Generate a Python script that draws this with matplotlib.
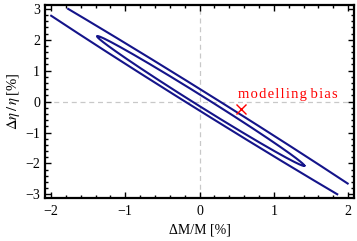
import numpy as np
import matplotlib
matplotlib.use("Agg")
import matplotlib.pyplot as plt
from matplotlib.ticker import MultipleLocator

plt.rcParams['font.family'] = ['Liberation Serif', 'DejaVu Serif']
plt.rcParams['mathtext.fontset'] = 'stix'

# confidence ellipses: centre, half-extent in x and y, correlation
ell_center = [(0.015, 0.02), (0.0, 0.06)]
ell_half_x = [1.395, 3.14]
ell_half_y = [2.10, 4.71]
ell_rho = [-0.9959, -0.9972]

# contour region used for the ellipses
region_x = (-2.0, 2.0)
region_y = (-3.0, 3.0)

bias_x = 0.56
bias_y = -0.23
bias_label = "modelling bias"

fig = plt.figure(figsize=(3.57, 2.41), dpi=100)
ax = fig.add_axes([0.126, 0.178, 0.866, 0.801])

ax.axhline(0, color='#c8c8c8', lw=0.9, ls=(0, (4, 3)), zorder=1)
ax.axvline(0, color='#c8c8c8', lw=0.9, ls=(0, (4, 3)), zorder=1)

t = np.linspace(0, 2 * np.pi, 2000)
for (cx, cy), a, b, r in zip(ell_center, ell_half_x, ell_half_y, ell_rho):
    x = cx + a * np.cos(t)
    y = cy + b * (r * np.cos(t) + np.sqrt(1 - r ** 2) * np.sin(t))
    out = (x < region_x[0]) | (x > region_x[1]) | (y < region_y[0]) | (y > region_y[1])
    x[out] = np.nan
    y[out] = np.nan
    ax.plot(x, y, color='#14148a', lw=1.5, zorder=3)

ax.plot([bias_x], [bias_y], marker='x', color='red', ms=7, mew=1.0, ls='none', zorder=4)
spaced = ' '.join('\u200a'.join(w) for w in bias_label.split())
ax.text(bias_x - 0.04, bias_y + 0.33, spaced, color='red',
        fontsize=10.5, ha='left', va='baseline', family=['Liberation Serif', 'DejaVu Serif'])

ax.set_xlim(-2.08, 2.08)
ax.set_ylim(-3.12, 3.12)
ax.xaxis.set_major_locator(MultipleLocator(1))
ax.yaxis.set_major_locator(MultipleLocator(1))
ax.xaxis.set_minor_locator(MultipleLocator(0.2))
ax.yaxis.set_minor_locator(MultipleLocator(0.2))
ax.tick_params(which='both', direction='in', top=True, right=True, width=1.0, labelsize=10)
ax.tick_params(which='major', length=4)
ax.tick_params(which='minor', length=2)
ax.tick_params(axis='x', pad=5)
for s in ax.spines.values():
    s.set_linewidth(1.6)

ax.set_xlabel('\u0394M/M [%]', fontsize=10, labelpad=4)
ax.set_ylabel('$\\Delta\\eta\\,/\\,\\eta\\;$[%]', fontsize=10.5, labelpad=2)

fig.savefig('out.png', dpi=100)
